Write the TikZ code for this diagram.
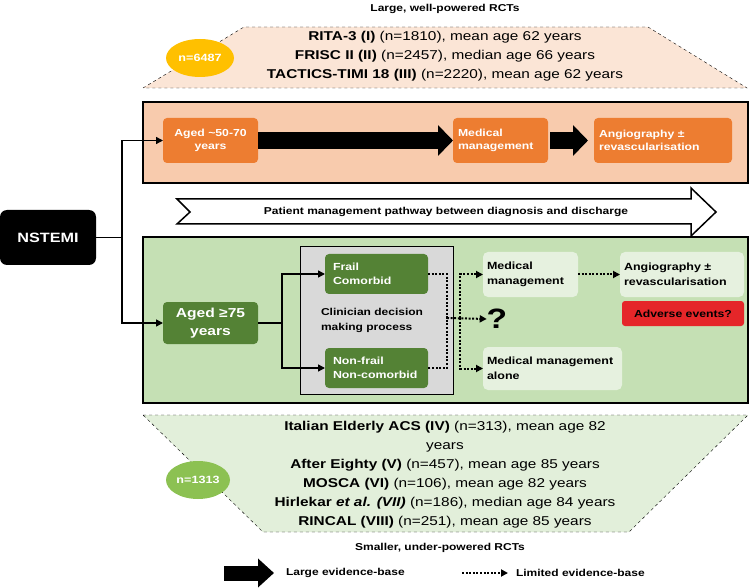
\documentclass[tikz,border=0pt]{standalone}
\usepackage{fontspec}
\setmainfont{Liberation Sans}[FakeStretch=1.2]
\usetikzlibrary{arrows.meta, positioning, calc, shapes.geometric}

\definecolor{peach}{HTML}{FBE5D6}
\definecolor{orangepanel}{HTML}{F8CBAD}
\definecolor{orangebox}{HTML}{ED7D31}
\definecolor{greenpanel}{HTML}{C5E0B4}
\definecolor{darkgreen}{HTML}{548235}
\definecolor{paleboxgreen}{HTML}{E6F1DF}
\definecolor{palegreen}{HTML}{E2EFDA}
\definecolor{decisiongray}{HTML}{D9D9D9}
\definecolor{nyellow}{HTML}{FFC000}
\definecolor{ngreen}{HTML}{8CC152}
\definecolor{alertred}{HTML}{E52629}

\begin{document}
\begin{tikzpicture}[x=1pt, y=-1pt,
	every node/.style={inner sep=0pt, outer sep=0pt},
	panel/.style={draw, line width=1.8pt},
	obox/.style={fill=orangebox, rounded corners=4pt, text=white, font=\bfseries\fontsize{10.2}{13.5}\selectfont},
	gbox/.style={fill=darkgreen, rounded corners=4pt, text=white, font=\bfseries\fontsize{10.3}{14}\selectfont},
	pbox/.style={fill=paleboxgreen, rounded corners=5pt, font=\bfseries\fontsize{10.4}{14.5}\selectfont},
	trial/.style={align=center, font=\fontsize{12.8}{19}\selectfont},
	nbubble/.style={ellipse, text=white, font=\bfseries\fontsize{10.5}{12}\selectfont},
	caption/.style={font=\bfseries\fontsize{10}{12}\selectfont},
	conn/.style={line width=1.4pt},
	tip/.style={-{Triangle[length=7pt,width=7pt]}},
	dots/.style={line width=2pt, dash pattern=on 2pt off 1.6pt},
	bigarrow/.style={line width=17pt, -{Triangle[length=15pt,width=30pt]}}]

	\useasboundingbox (0,0) rectangle (750,588);

	% top trials
	\node[caption] (largecap) at (445,9) {Large, well-powered RCTs};
	\draw[dashed, fill=peach] (143,88) -- (244,27) -- (648,27) -- (747,88) -- cycle;
	\node[trial] (largetrials) at (445,56) {\textbf{RITA-3 (I)} (n=1810), mean age 62 years\\
		\textbf{FRISC II (II)} (n=2457), median age 66 years\\
		\textbf{TACTICS-TIMI 18 (III)} (n=2220), mean age 62 years};
	\node[nbubble, fill=nyellow, minimum width=68pt, minimum height=38pt] (nlarge) at (200,58) {n=6487};

	% orange panel
	\draw[panel, fill=orangepanel] (143,102) rectangle (748,183);
	\node[obox, minimum width=95pt, minimum height=45pt, align=center] (aged1) at (210.5,140.5) {Aged \textasciitilde50-70\\years};
	\node[obox, minimum width=95pt, minimum height=45pt, align=left, text width=85pt] (med1) at (500.5,140.5) {Medical\\management};
	\node[obox, minimum width=138pt, minimum height=45pt, align=left, text width=128pt] (ang1) at (663,140.5) {Angiography ±\\revascularisation};
	\draw[bigarrow] (aged1.east) -- (med1.west);
	\draw[bigarrow, shorten <=2pt, shorten >=6pt] (med1.east) -- (ang1.west);

	% pathway
	\draw[line width=1.5pt, fill=white] (177,199) -- (691,199) -- (691,188) -- (716,212) -- (691,236) -- (691,224) -- (177,224) -- (190,212) -- cycle;
	\node[caption] (pathway) at (446,212) {Patient management pathway between diagnosis and discharge};

	% NSTEMI
	\node[fill=black, rounded corners=7pt, minimum width=96pt, minimum height=55pt, text=white, font=\bfseries\fontsize{13.5}{16}\selectfont] (nstemi) at (48,237.5) {NSTEMI};
	\coordinate (split) at (122,237.5);

	% green panel
	\draw[panel, fill=greenpanel] (143,237) rectangle (748,403);
	\draw[line width=1pt, fill=decisiongray] (300,247) rectangle (453,394);
	\node[gbox, minimum width=95pt, minimum height=42pt, align=center, font=\bfseries\fontsize{13}{18}\selectfont] (aged75) at (210.5,323) {Aged ≥75\\years};
	\node[gbox, minimum width=103pt, minimum height=40pt, align=left, text width=87pt] (frail) at (376.5,274) {Frail\\Comorbid};
	\node[gbox, minimum width=103pt, minimum height=40pt, align=left, text width=87pt] (nonfrail) at (376.5,368) {Non-frail\\Non-comorbid};
	\node[anchor=west, align=left, font=\bfseries\fontsize{10}{15}\selectfont] (clinician) at (321,320.5) {Clinician decision\\making process};
	\node[pbox, minimum width=95pt, minimum height=45pt, align=left, text width=87pt] (mm2) at (530.5,274.5) {Medical\\management};
	\node[pbox, minimum width=124pt, minimum height=45pt, align=left, text width=116pt] (ang2) at (682,274.5) {Angiography ±\\revascularisation};
	\node[fill=alertred, rounded corners=3pt, minimum width=122pt, minimum height=25pt, font=\bfseries\fontsize{10.2}{13}\selectfont] (adverse) at (683,313.5) {Adverse events?};
	\node[font=\bfseries\fontsize{28}{30}\selectfont] (query) at (497,319) {?};
	\node[pbox, minimum width=139pt, minimum height=43pt, align=left, text width=131pt] (mmalone) at (552.5,368.5) {Medical management\\alone};

	\draw[conn] (nstemi.east) -- (split);
	\draw[conn, tip] (split) |- (aged1.west);
	\draw[conn, tip] (split) |- (aged75.west);
	\coordinate (fork) at (282,323);
	\draw[conn] (aged75.east) -- (fork);
	\draw[conn, tip] (fork) |- (frail.west);
	\draw[conn, tip] (fork) |- (nonfrail.west);

	\coordinate (join) at (447,318);
	\coordinate (branch) at (460,318);
	\draw[dots] (frail.east) -| (join) |- (nonfrail.east);
	\draw[dots, tip] (join) -- (query.west);
	\draw[dots, tip] (branch) |- (mm2.west);
	\draw[dots, tip] (branch) |- (mmalone.west);
	\draw[dots, tip] (mm2.east) -- (ang2.west);

	% bottom trials
	\draw[dashed, fill=palegreen] (143,415) -- (748,415) -- (629,532) -- (263,532) -- cycle;
	\node[trial] (smalltrials) at (445,474.5) {\textbf{Italian Elderly ACS (IV)} (n=313), mean age 82\\
		years\\
		\textbf{After Eighty (V)} (n=457), mean age 85 years\\
		\textbf{MOSCA (VI)} (n=106), mean age 82 years\\
		\textbf{Hirlekar \textit{et al. (VII)}} (n=186), median age 84 years\\
		\textbf{RINCAL (VIII)} (n=251), mean age 85 years};
	\node[nbubble, fill=ngreen, minimum width=64pt, minimum height=38pt] (nsmall) at (198,480) {n=1313};
	\node[caption] (smallcap) at (440,548) {Smaller, under-powered RCTs};

	% legend
	\coordinate (lbig1) at (224,573);
	\coordinate (lbig2) at (274,573);
	\draw[line width=15pt, -{Triangle[length=16pt,width=28pt]}] (lbig1) -- (lbig2);
	\node[caption, anchor=west] (lbigtext) at (286,573) {Large evidence-base};
	\coordinate (ldot1) at (462,573);
	\coordinate (ldot2) at (508,573);
	\draw[dots, tip] (ldot1) -- (ldot2);
	\node[caption, anchor=west] (ldottext) at (516,573) {Limited evidence-base};
\end{tikzpicture}
\end{document}
